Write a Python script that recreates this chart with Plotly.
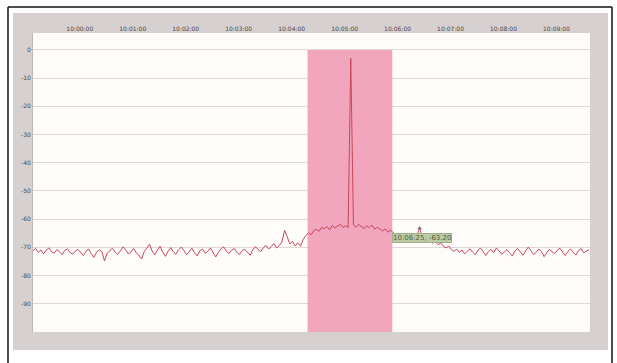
import pandas as pd
import plotly.graph_objects as go

# Signal level (dB) sampled every 3 seconds
start_time = "2024-01-01 09:59:07"
sample_step = "3s"
level_db = [
    -71.2, -70.4, -71.8, -70.9, -72.3, -71.0, -70.2, -71.6, -72.0, -70.8,
    -71.5, -72.6, -71.1, -70.5, -71.9, -72.4, -71.3, -70.7, -71.8, -72.9,
    -71.4, -70.6, -72.2, -73.5, -71.7, -70.9, -71.5, -74.8, -72.1, -71.0,
    -70.3, -71.7, -72.5, -71.2, -69.8, -70.9, -72.3, -71.6, -70.4, -71.9,
    -72.8, -74.1, -71.5, -70.2, -68.9, -71.3, -72.7, -71.0, -69.6, -71.8,
    -73.2, -71.4, -70.1, -71.6, -72.4, -70.8, -69.9, -71.2, -72.6, -71.5,
    -70.3, -71.9, -73.0, -71.2, -70.6, -72.1, -71.4, -70.2, -71.7, -73.4,
    -71.8, -70.5, -69.8, -71.3, -72.2, -71.0, -70.4, -71.8, -72.5, -71.1,
    -70.7, -71.9, -72.8, -70.9, -69.7, -70.8, -71.5, -70.1, -69.3, -70.6,
    -69.8, -68.7, -70.2, -69.4, -68.1, -64.0, -66.3, -68.8, -67.9, -69.5,
    -68.4, -69.6, -67.2, -65.8, -64.9, -65.5, -64.1, -63.6, -64.3, -62.9,
    -63.4, -62.6, -63.8, -62.2, -63.1, -62.5, -61.8, -62.9, -62.3, -63.0,
    -3.0,
    -62.1, -62.8, -61.9, -62.6, -63.3, -62.4, -63.0, -62.1, -63.5, -62.9,
    -63.7, -64.2, -63.5, -64.6, -63.9, -64.8, -65.7, -66.4, -67.1,
    -66.5, -67.3, -66.8, -67.6, -66.9, -65.8, -63.2, -66.7, -67.4, -66.3,
    -67.8, -68.5, -67.9, -69.1, -68.4, -69.6, -70.2, -69.5, -70.8, -71.4,
    -70.6, -71.8, -70.9, -72.3, -71.2, -70.5, -71.7, -72.6, -71.0, -70.3,
    -71.5, -72.9, -71.4, -70.7, -71.9, -70.2, -71.3, -72.4, -71.6, -70.8,
    -71.9, -73.1, -71.2, -70.4, -71.6, -72.8, -71.3, -69.9, -71.1, -72.5,
    -71.8, -70.6, -71.4, -73.3, -71.9, -70.7, -71.5, -72.2, -71.0, -70.3,
    -71.7, -72.9, -71.4, -70.6, -71.8, -72.7, -71.1, -70.5, -71.9, -71.3,
    -70.8,
]
times = pd.date_range(start_time, periods=len(level_db), freq=sample_step)

# Highlighted event window and the cursor sample
event_start = "2024-01-01 10:04:18"
event_end = "2024-01-01 10:05:54"
cursor_index = 146

x_range = ["2024-01-01 09:59:07", "2024-01-01 10:09:38"]
y_range = [-100, 6]
y_ticks = [0, -10, -20, -30, -40, -50, -60, -70, -80, -90]
x_ticks = pd.date_range("2024-01-01 10:00:00", periods=10, freq="1min")

fig = go.Figure()

fig.add_trace(go.Scatter(
    x=times, y=level_db, mode="lines",
    line=dict(color="#c9475a", width=1),
    hoverinfo="skip", showlegend=False,
))

cursor_t = times[cursor_index]
cursor_v = level_db[cursor_index]
fig.add_trace(go.Scatter(
    x=[cursor_t], y=[cursor_v], mode="markers",
    marker=dict(color="#6b6b6b", size=4, symbol="triangle-up"),
    hoverinfo="skip", showlegend=False,
))

fig.add_annotation(
    x=cursor_t, y=cursor_v, xref="x", yref="y",
    text=f"{cursor_t:%H:%M:%S}, {cursor_v:.2f}",
    showarrow=False, xanchor="left", yanchor="top",
    xshift=-28, yshift=-5,
    font=dict(family="DejaVu Sans", size=7, color="#4d5d3c"),
    bgcolor="#bccba6", bordercolor="#9fb287", borderwidth=1, borderpad=0,
)

shapes = [
    # outer frame
    dict(type="line", xref="paper", yref="paper", x0=-0.0449, x1=-0.0449, y0=-0.11, y1=1.087,
         line=dict(color="#111111", width=1.5), layer="below"),
    dict(type="line", xref="paper", yref="paper", x0=-0.0449, x1=1.0395, y0=1.087, y1=1.087,
         line=dict(color="#111111", width=1.5), layer="below"),
    dict(type="line", xref="paper", yref="paper", x0=1.0395, x1=1.0395, y0=-0.11, y1=1.087,
         line=dict(color="#111111", width=1.5), layer="below"),
    # grey chart panel
    dict(type="rect", xref="paper", yref="paper", x0=-0.0359, x1=1.0323, y0=-0.0602, y1=1.0669,
         fillcolor="#d6d0d0", line=dict(width=0), layer="below"),
    # plotting area
    dict(type="rect", xref="paper", yref="paper", x0=0, x1=1, y0=0, y1=1,
         fillcolor="#fffdfb", line=dict(width=0), layer="below"),
    # event window
    dict(type="rect", xref="x", yref="y", x0=event_start, x1=event_end, y0=-100, y1=0,
         fillcolor="#f2a6bd", line=dict(width=0), layer="between"),
]
fig.update_layout(shapes=shapes)

fig.update_layout(
    width=617, height=363,
    margin=dict(l=33, r=27, t=33, b=31),
    paper_bgcolor="#ffffff", plot_bgcolor="rgba(0,0,0,0)",
    font=dict(family="DejaVu Sans", size=6, color="#4a4a4a"),
    xaxis=dict(
        side="top", range=x_range, type="date",
        tickvals=list(x_ticks), ticktext=[f"{t:%H:%M:%S}" for t in x_ticks],
        showgrid=False, zeroline=False, showline=False, ticks="",
        tickfont=dict(size=6, color="#4a4a4a"),
    ),
    yaxis=dict(
        range=y_range, tickvals=y_ticks, ticktext=[str(v) for v in y_ticks],
        showgrid=True, gridcolor="#dfd8d8", gridwidth=1,
        zeroline=False, showline=True, linecolor="#bdb6b6", linewidth=1, ticks="",
        tickfont=dict(size=6, color="#4a4a4a"),
    ),
)

fig.write_html("out.html")
